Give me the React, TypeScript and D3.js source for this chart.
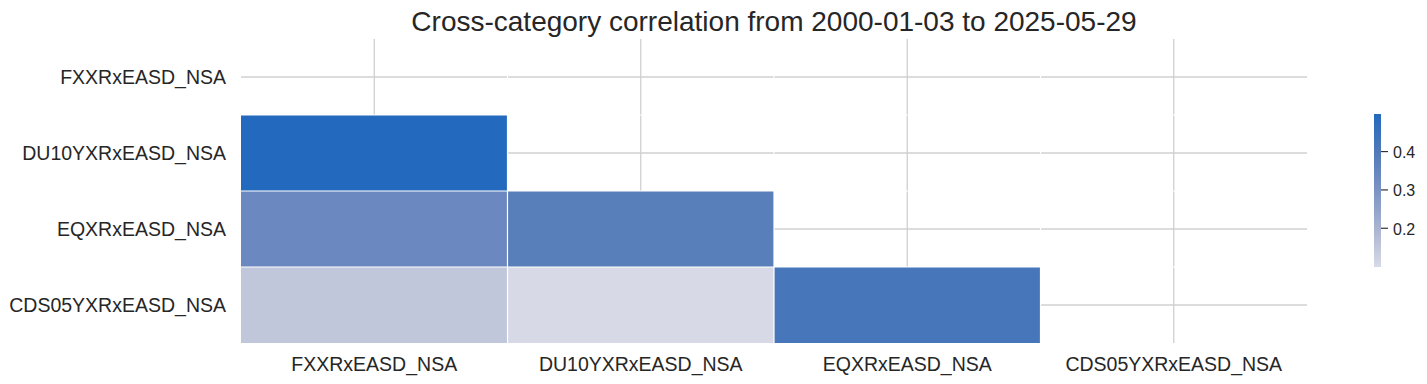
import React from 'react';
import * as d3 from 'd3';

const categories = ['FXXRxEASD_NSA', 'DU10YXRxEASD_NSA', 'EQXRxEASD_NSA', 'CDS05YXRxEASD_NSA'];
// lower-triangle correlations, one array per row (columns in category order)
const rowFX: number[] = [];
const rowDU10Y = [0.498];
const rowEQ = [0.337, 0.378];
const rowCDS = [0.15, 0.099, 0.42];
const corrRows = [rowFX, rowDU10Y, rowEQ, rowCDS];

const colorbarTicks = [0.2, 0.3, 0.4];
const cbarMin = 0.099;
const cbarMax = 0.498;
const cmapValues = [0.099, 0.2, 0.3, 0.4, 0.498];
const cmapColors = ['#d7dae6', '#a9b4d1', '#7b93c4', '#5079b9', '#2369bd'];
const title = 'Cross-category correlation from 2000-01-03 to 2025-05-29';

const W = 1427;
const H = 384;
const FONT = '"Liberation Sans", Arial, Helvetica, sans-serif';
const TXT = '#262626';

export default function App() {
  const x = d3.scaleBand<string>().domain(categories).range([241, 1307]);
  const y = d3.scaleBand<string>().domain(categories).range([39, 343]);
  const color = d3
    .scaleLinear<string>()
    .domain(cmapValues)
    .range(cmapColors)
    .interpolate(d3.interpolateRgb);
  const cy = d3.scaleLinear().domain([cbarMin, cbarMax]).range([267, 114]);
  const cbX = 1374;
  const cbW = 7;

  const cells: { r: string; c: string; v: number }[] = [];
  corrRows.forEach((vals, i) => {
    vals.forEach((v, j) => cells.push({ r: categories[i], c: categories[j], v }));
  });

  const bw = x.bandwidth();
  const bh = y.bandwidth();
  const gradStops = d3.range(0, 21).map((k) => {
    const v = cbarMin + ((cbarMax - cbarMin) * k) / 20;
    return { off: k / 20, col: color(v) };
  });

  return (
    <svg
      width={W}
      height={H}
      style={{ position: 'absolute', left: 0, top: 0, background: '#fff' }}
      fontFamily={FONT}
    >
      <defs>
        <linearGradient id="cbar" x1="0" y1="1" x2="0" y2="0">
          {gradStops.map((s, i) => (
            <stop key={i} offset={s.off} stopColor={s.col} />
          ))}
        </linearGradient>
      </defs>
      <rect x={0} y={0} width={W} height={H} fill="#fff" />
      {/* grid lines */}
      {categories.map((c) => (
        <line
          key={'gv' + c}
          x1={x(c)! + bw / 2}
          x2={x(c)! + bw / 2}
          y1={y.range()[0]}
          y2={y.range()[1]}
          stroke="#d0d0d0"
          strokeWidth={1.3}
        />
      ))}
      {categories.map((c) => (
        <line
          key={'gh' + c}
          y1={y(c)! + bh / 2}
          y2={y(c)! + bh / 2}
          x1={x.range()[0]}
          x2={x.range()[1]}
          stroke="#d0d0d0"
          strokeWidth={1.3}
        />
      ))}
      {/* cells */}
      {cells.map((d, i) => (
        <rect
          key={'c' + i}
          x={x(d.c)}
          y={y(d.r)}
          width={bw}
          height={bh}
          fill={color(d.v)}
        />
      ))}
      {/* white cell edges */}
      {categories.slice(1).map((c) => (
        <line
          key={'ev' + c}
          x1={x(c)}
          x2={x(c)}
          y1={y.range()[0]}
          y2={y.range()[1]}
          stroke="#fff"
          strokeWidth={1.2}
        />
      ))}
      {categories.slice(1).map((c) => (
        <line
          key={'eh' + c}
          y1={y(c)}
          y2={y(c)}
          x1={x.range()[0]}
          x2={x.range()[1]}
          stroke="#fff"
          strokeWidth={1.2}
        />
      ))}
      {/* y labels */}
      {categories.map((c) => (
        <text
          key={'yl' + c}
          x={226}
          y={y(c)! + bh / 2 + 7}
          textAnchor="end"
          fontSize={19.5}
          fill={TXT}
        >
          {c}
        </text>
      ))}
      {/* x labels */}
      {categories.map((c) => (
        <text
          key={'xl' + c}
          x={x(c)! + bw / 2}
          y={370.5}
          textAnchor="middle"
          fontSize={19.5}
          fill={TXT}
        >
          {c}
        </text>
      ))}
      {/* title */}
      <text x={(x.range()[0] + x.range()[1]) / 2} y={31} textAnchor="middle" fontSize={28} fill={TXT}>
        {title}
      </text>
      {/* colorbar */}
      <rect x={cbX} y={cy(cbarMax)} width={cbW} height={cy(cbarMin) - cy(cbarMax)} fill="url(#cbar)" />
      {colorbarTicks.map((t) => (
        <g key={'ct' + t}>
          <line x1={cbX + cbW} x2={cbX + cbW + 7} y1={cy(t)} y2={cy(t)} stroke="#333" strokeWidth={1.2} />
          <text x={1393} y={cy(t) + 6.5} fontSize={16} fill={TXT}>
            {d3.format('.1f')(t)}
          </text>
        </g>
      ))}
    </svg>
  );
}
